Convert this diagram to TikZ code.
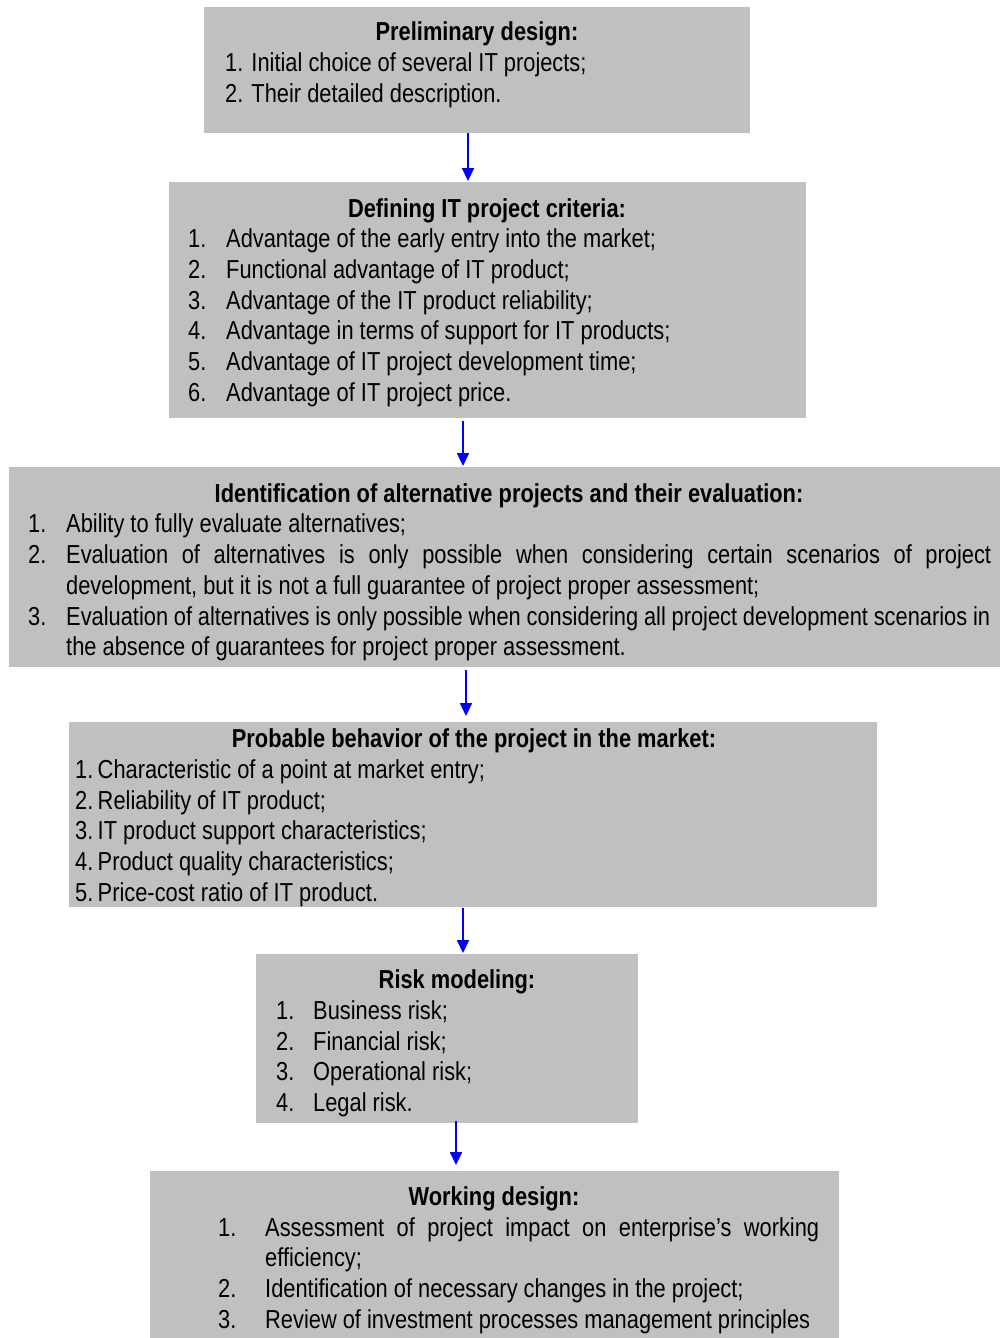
\documentclass[tikz,border=0pt]{standalone}
\usepackage{fontspec}
\setmainfont[FakeStretch=0.84]{Liberation Sans}
\usetikzlibrary{arrows.meta}
\definecolor{boxgray}{RGB}{192,192,192}
\definecolor{arrowblue}{RGB}{0,0,255}
\newcommand\bodysize{\fontsize{26}{30.7}\selectfont}
\tikzset{
  panel/.style={fill=boxgray, draw=none, inner sep=0pt, anchor=north west},
  head/.style={anchor=base, inner sep=0pt, font=\bodysize\bfseries},
  txt/.style={anchor=base west, inner sep=0pt, font=\bodysize},
  flow/.style={draw=arrowblue, line width=2pt, -{Triangle[length=13pt,width=12pt]}}
}
\begin{document}
\begin{tikzpicture}[x=1pt,y=-1pt]
\path[use as bounding box, fill=white] (0,0) rectangle (1001,1338);

% panels
\node[panel, minimum width=546pt, minimum height=126pt] (p1) at (204,7) {};
\node[panel, minimum width=637pt, minimum height=236pt] (p2) at (169,182) {};
\node[panel, minimum width=991pt, minimum height=200pt] (p3) at (9,467) {};
\node[panel, minimum width=808pt, minimum height=185pt] (p4) at (69,722) {};
\node[panel, minimum width=382pt, minimum height=169pt] (p5) at (256,954) {};
\node[panel, minimum width=689pt, minimum height=167pt] (p6) at (150,1171) {};

% Preliminary design
\node[head] (h1) at (477,41) {Preliminary design:};
\node[txt] (t1a) at (225,71) {1. Initial choice of several IT projects;};
\node[txt] (t1b) at (225,102) {2. Their detailed description.};

% Defining IT project criteria
\node[head] (h2) at (487,217) {Defining IT project criteria:};
\node[txt] (n2a) at (188,247) {1.};
\node[txt] (t2a) at (226,247) {Advantage of the early entry into the market;};
\node[txt] (n2b) at (188,278) {2.};
\node[txt] (t2b) at (226,278) {Functional advantage of IT product;};
\node[txt] (n2c) at (188,309) {3.};
\node[txt] (t2c) at (226,309) {Advantage of the IT product reliability;};
\node[txt] (n2d) at (188,339) {4.};
\node[txt] (t2d) at (226,339) {Advantage in terms of support for IT products;};
\node[txt] (n2e) at (188,370) {5.};
\node[txt] (t2e) at (226,370) {Advantage of IT project development time;};
\node[txt] (n2f) at (188,401) {6.};
\node[txt] (t2f) at (226,401) {Advantage of IT project price.};

% Identification of alternatives
\node[head] (h3) at (509,502) {Identification of alternative projects and their evaluation:};
\node[txt] (n3a) at (28,532) {1.};
\node[txt] (t3a) at (66,532) {Ability to fully evaluate alternatives;};
\node[txt] (n3b) at (28,563) {2.};
\node[txt] (t3b) at (66,563) {\makebox[925pt][s]{Evaluation of alternatives is only possible when considering certain scenarios of project}};
\node[txt] (t3c) at (66,594) {development, but it is not a full guarantee of project proper assessment;};
\node[txt] (n3d) at (28,625) {3.};
\node[txt] (t3d) at (66,625) {\makebox[924pt][s]{Evaluation of alternatives is only possible when considering all project development scenarios in}};
\node[txt] (t3e) at (66,655) {the absence of guarantees for project proper assessment.};

% Probable behavior
\node[head] (h4) at (474,747) {Probable behavior of the project in the market:};
\node[txt] (t4a) at (75,778) {1.\,Characteristic of a point at market entry;};
\node[txt] (t4b) at (75,809) {2.\,Reliability of IT product;};
\node[txt] (t4c) at (75,839) {3.\,IT product support characteristics;};
\node[txt] (t4d) at (75,870) {4.\,Product quality characteristics;};
\node[txt] (t4e) at (75,901) {5.\,Price-cost ratio of IT product.};

% Risk modeling
\node[head] (h5) at (457,988) {Risk modeling:};
\node[txt] (n5a) at (276,1019) {1.};
\node[txt] (t5a) at (313,1019) {Business risk;};
\node[txt] (n5b) at (276,1050) {2.};
\node[txt] (t5b) at (313,1050) {Financial risk;};
\node[txt] (n5c) at (276,1080) {3.};
\node[txt] (t5c) at (313,1080) {Operational risk;};
\node[txt] (n5d) at (276,1111) {4.};
\node[txt] (t5d) at (313,1111) {Legal risk.};

% Working design
\node[head] (h6) at (494,1205) {Working design:};
\node[txt] (n6a) at (218,1236) {1.};
\node[txt] (t6a) at (265,1236) {\makebox[554pt][s]{Assessment of project impact on enterprise’s working}};
\node[txt] (t6b) at (265,1266) {efficiency;};
\node[txt] (n6c) at (218,1297) {2.};
\node[txt] (t6c) at (265,1297) {Identification of necessary changes in the project;};
\node[txt] (n6d) at (218,1328) {3.};
\node[txt] (t6d) at (265,1328) {Review of investment processes management principles};

% connectors (yshift is measured upwards)
\coordinate (c1) at (468,0);
\coordinate (c2) at (463,0);
\coordinate (c3) at (466,0);
\coordinate (c4) at (463,0);
\coordinate (c5) at (456,0);
\draw[flow] (p1.south -| c1) -- ([yshift=1pt]p2.north -| c1);
\draw[flow] ([yshift=-3pt]p2.south -| c2) -- ([yshift=1pt]p3.north -| c2);
\draw[flow] ([yshift=-3pt]p3.south -| c3) -- ([yshift=6pt]p4.north -| c3);
\draw[flow] ([yshift=-1pt]p4.south -| c4) -- ([yshift=1pt]p5.north -| c4);
\draw[flow] ([yshift=2pt]p5.south -| c5) -- ([yshift=6pt]p6.north -| c5);
\end{tikzpicture}
\end{document}
